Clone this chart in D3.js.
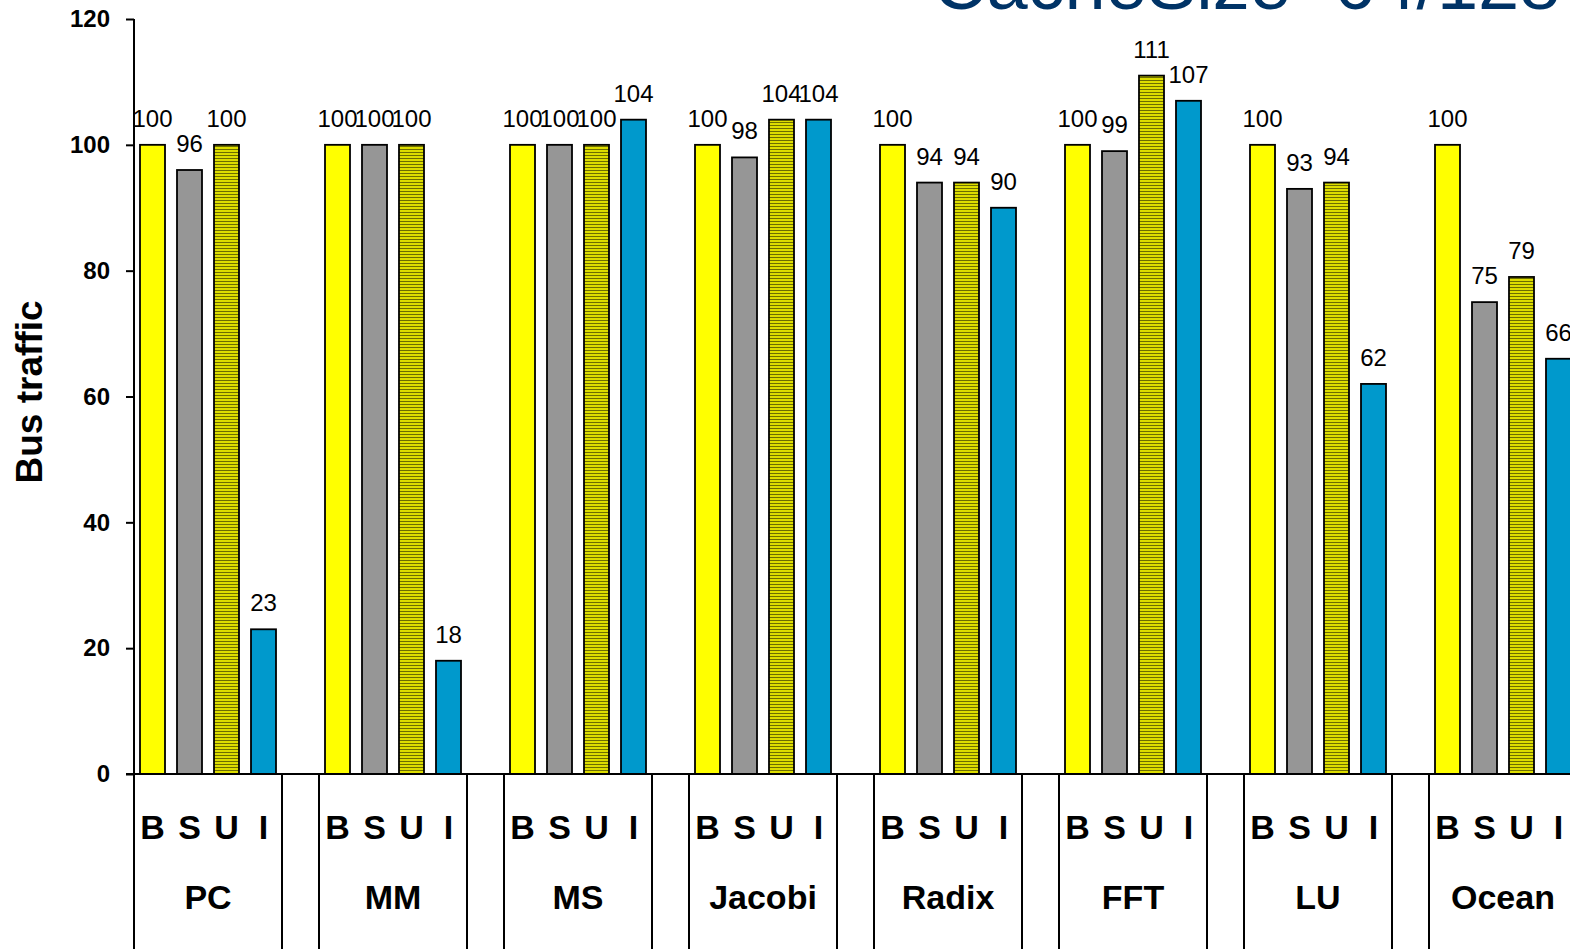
<!DOCTYPE html>
<html>
<head>
<meta charset="utf-8">
<script src="https://cdn.jsdelivr.net/npm/d3@7"></script>
<style>
  body { margin: 0; background: #fff; }
  svg { display: block; font-family: Arial, 'Liberation Sans', sans-serif; }
</style>
</head>
<body>
<div id="chart"></div>
<script>
// Values.
var groups = ['PC', 'MM', 'MS', 'Jacobi', 'Radix', 'FFT', 'LU', 'Ocean'];
var keys = ['B', 'S', 'U', 'I'];
var valuesB = [100, 100, 100, 100, 100, 100, 100, 100];
var valuesS = [96, 100, 100, 98, 94, 99, 93, 75];
var valuesU = [100, 100, 100, 104, 94, 111, 94, 79];
var valuesI = [23, 18, 104, 104, 90, 107, 62, 66];
var yTicks = [0, 20, 40, 60, 80, 100, 120];
var title = 'CacheSize=64/128';
var yTitle = 'Bus traffic';

var series = {B: valuesB, S: valuesS, U: valuesU, I: valuesI};
var fills = {B: '#ffff00', S: '#969696', U: 'url(#hatch)', I: '#0099cc'};

var width = 1570, height = 949;
var svg = d3.select('#chart').append('svg')
  .attr('width', width)
  .attr('height', height);

// Horizontal-line hatch used by the U bars.
var pat = svg.append('defs').append('pattern')
  .attr('id', 'hatch')
  .attr('patternUnits', 'userSpaceOnUse')
  .attr('width', 6)
  .attr('height', 3);
pat.append('rect').attr('width', 6).attr('height', 3).attr('fill', '#dede00');
pat.append('rect').attr('y', 2).attr('width', 6).attr('height', 1).attr('fill', '#6e6e00');

var y = d3.scaleLinear().domain([0, 120]).range([774, 19]);

// group step 185 px, box 148 px, empty slot 37 px between groups
var x0 = d3.scaleBand()
  .domain(groups)
  .range([134, 134 + groups.length * 185 - 37])
  .paddingInner(0.2)
  .paddingOuter(0);

var x1 = d3.scaleBand()
  .domain(keys)
  .range([0, x0.bandwidth()])
  .paddingInner(12 / 37)
  .paddingOuter(6 / 37);

// title, cut off by the top edge
svg.append('text')
  .attr('x', 933)
  .attr('y', 9)
  .attr('fill', '#003366')
  .style('font-size', '74px')
  .text(title);

// bars
var g = svg.append('g');
groups.forEach(function(name, gi) {
  keys.forEach(function(k) {
    var v = series[k][gi];
    var bx = x0(name) + x1(k);
    g.append('rect')
      .attr('x', bx)
      .attr('y', y(v))
      .attr('width', x1.bandwidth())
      .attr('height', y(0) - y(v))
      .attr('fill', fills[k])
      .attr('stroke', '#000')
      .attr('stroke-width', 1.8);

    g.append('text')
      .attr('x', bx + x1.bandwidth() / 2)
      .attr('y', y(v) - 18)
      .attr('text-anchor', 'middle')
      .style('font-size', '24px')
      .attr('fill', '#000')
      .text(v);
  });
});

// y axis
var yAxis = d3.axisLeft(y)
  .tickValues(yTicks)
  .tickSize(8)
  .tickPadding(16);

svg.append('g')
  .attr('transform', 'translate(134,0)')
  .call(yAxis)
  .call(function(s) {
    s.select('.domain').attr('stroke-width', 2).attr('d', 'M0,19V949');
    s.selectAll('.tick line').attr('stroke-width', 2);
    s.selectAll('.tick text')
      .style('font-size', '24px')
      .style('font-weight', 'bold')
      .style('font-family', "Arial, 'Liberation Sans', sans-serif")
      .attr('fill', '#000');
  });

// baseline
svg.append('line')
  .attr('x1', 126).attr('x2', width)
  .attr('y1', y(0)).attr('y2', y(0))
  .attr('stroke', '#000').attr('stroke-width', 2);

// category boxes below the baseline
groups.forEach(function(name) {
  var left = x0(name), right = x0(name) + x0.bandwidth();
  [left, right].forEach(function(px) {
    svg.append('line')
      .attr('x1', px).attr('x2', px)
      .attr('y1', y(0)).attr('y2', height)
      .attr('stroke', '#000').attr('stroke-width', 2);
  });

  keys.forEach(function(k) {
    svg.append('text')
      .attr('x', left + x1(k) + x1.bandwidth() / 2)
      .attr('y', 839)
      .attr('text-anchor', 'middle')
      .style('font-size', '34px')
      .style('font-weight', 'bold')
      .text(k);
  });

  svg.append('text')
    .attr('x', left + x0.bandwidth() / 2)
    .attr('y', 909)
    .attr('text-anchor', 'middle')
    .style('font-size', '34px')
    .style('font-weight', 'bold')
    .text(name);
});

// y title
svg.append('text')
  .attr('transform', 'translate(42,392) rotate(-90)')
  .attr('text-anchor', 'middle')
  .style('font-size', '37px')
  .style('font-weight', 'bold')
  .text(yTitle);
</script>
</body>
</html>
